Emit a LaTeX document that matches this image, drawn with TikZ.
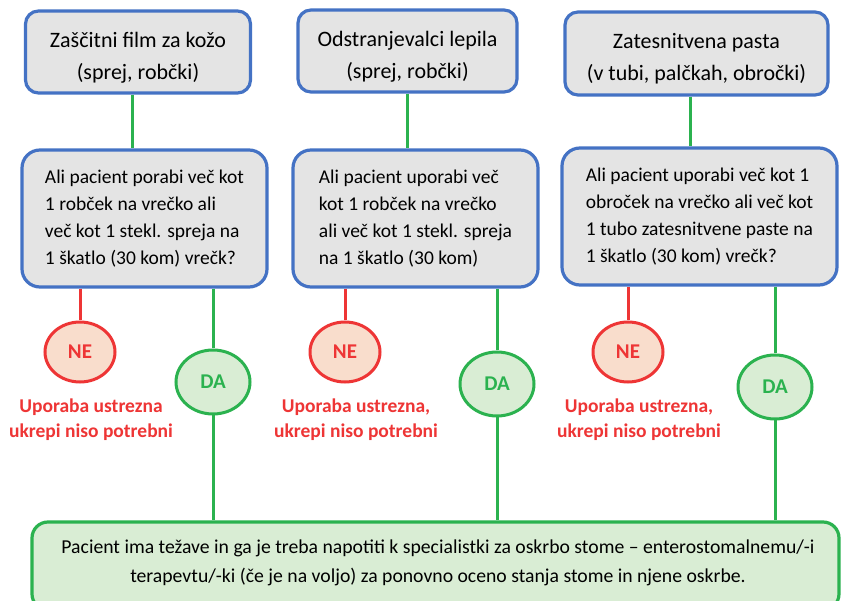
\documentclass[tikz,border=0pt]{standalone}
\usepackage{fontspec}
\setmainfont{Carlito}
\usetikzlibrary{shapes.geometric}
\definecolor{bblue}{HTML}{4472C4}
\definecolor{bgray}{HTML}{E4E4E4}
\definecolor{ggreen}{HTML}{2BB24F}
\definecolor{rred}{HTML}{EE3535}
\definecolor{nefill}{HTML}{F9DDCC}
\definecolor{dafill}{HTML}{D9EDD4}
\newcommand{\topstrut}{\rule{0pt}{26pt}}
\tikzset{
  topbox/.style={draw=bblue, fill=bgray, line width=3.2pt, rounded corners=13pt, align=center,
    font=\fontsize{22}{32}\selectfont, inner sep=0pt},
  qbox/.style={draw=bblue, fill=bgray, line width=3.2pt, rounded corners=18pt, align=left,
    font=\fontsize{19.5}{27}\selectfont, inner sep=0pt},
  nenode/.style={ellipse, draw=rred, fill=nefill, line width=3pt, minimum width=70pt, minimum height=60pt,
    inner sep=0pt, text=rred, font=\bfseries\fontsize{21}{22}\selectfont},
  danode/.style={ellipse, draw=ggreen, fill=dafill, line width=3pt, minimum width=74pt, minimum height=64pt,
    inner sep=0pt, text=ggreen, font=\bfseries\fontsize{21}{22}\selectfont},
  redtxt/.style={align=center, text=rred, font=\bfseries\fontsize{19.5}{25}\selectfont, inner sep=0pt},
  endbox/.style={draw=ggreen, fill=dafill, line width=3.2pt, rounded corners=16pt, inner sep=0pt},
  endtxt/.style={font=\fontsize{19.7}{29}\selectfont, align=center, inner sep=0pt},
  gline/.style={draw=ggreen, line width=3pt},
  rline/.style={draw=rred, line width=3pt},
}
\begin{document}
\begin{tikzpicture}[x=1pt,y=-1pt]
\useasboundingbox[fill=white] (0,0) rectangle (841,601);
% top boxes
\node[topbox, minimum width=225pt, minimum height=82pt] (t1) at (138,52) {\topstrut Zaščitni film za kožo\\(sprej, robčki)};
\node[topbox, minimum width=219pt, minimum height=82pt] (t2) at (407.5,51) {\topstrut Odstranjevalci lepila\\(sprej, robčki)};
\node[topbox, minimum width=263pt, minimum height=83pt] (t3) at (696.5,53.5) {\topstrut Zatesnitvena pasta\\(v tubi, palčkah, obročki)};
% question boxes
\node[qbox, minimum width=245pt, minimum height=137pt] (q1) at (144.5,218.5) {Ali pacient porabi več kot\\1 robček na vrečko ali\\več kot 1 stekl. spreja na\\1 škatlo (30 kom) vrečk?};
\node[qbox, minimum width=245pt, minimum height=137pt] (q2) at (415.5,218.5) {Ali pacient uporabi več\\kot 1 robček na vrečko\\ali več kot 1 stekl. spreja\\na 1 škatlo (30 kom)};
\node[qbox, minimum width=275pt, minimum height=137pt] (q3) at (699.5,216.5) {Ali pacient uporabi več kot 1\\obroček na vrečko ali več kot\\1 tubo zatesnitvene paste na\\1 škatlo (30 kom) vrečk?};
% bottom box
\node[endbox, minimum width=807pt, minimum height=88pt] (b) at (435.5,566) {};
\node[endtxt] (btxt) at (438,563) {Pacient ima težave in ga je treba napotiti k specialistki za oskrbo stome – enterostomalnemu/-i\\terapevtu/-ki (če je na voljo) za ponovno oceno stanja stome in njene oskrbe.};
% NE / DA
\node[nenode] (ne1) at (80,352) {NE};
\node[nenode] (ne2) at (345,352) {NE};
\node[nenode] (ne3) at (628,352) {NE};
\node[danode] (da1) at (213,382) {DA};
\node[danode] (da2) at (497,384) {DA};
\node[danode] (da3) at (775,387) {DA};
% red texts
\node[redtxt] (r1) at (91,420) {Uporaba ustrezna\\ukrepi niso potrebni};
\node[redtxt] (r2) at (356,420) {Uporaba ustrezna,\\ukrepi niso potrebni};
\node[redtxt] (r3) at (639,420) {Uporaba ustrezna,\\ukrepi niso potrebni};
% connectors
\draw[gline] ([xshift=-6pt]t1.south) -- ([xshift=-6pt]t1.south |- q1.north);
\draw[gline] (t2.south) -- (t2.south |- q2.north);
\draw[gline] ([xshift=-6.5pt]t3.south) -- ([xshift=-6.5pt]t3.south |- q3.north);
\draw[rline] (q1.south -| ne1) -- (ne1.north);
\draw[rline] (q2.south -| ne2) -- (ne2.north);
\draw[rline] (q3.south -| ne3) -- (ne3.north);
\draw[gline] (q1.south -| da1) -- (da1.north);
\draw[gline] (q2.south -| da2) -- (da2.north);
\draw[gline] (q3.south -| da3) -- (da3.north);
\draw[gline] (da1.south) -- (b.north -| da1);
\draw[gline] (da2.south) -- (b.north -| da2);
\draw[gline] (da3.south) -- (b.north -| da3);
\end{tikzpicture}
\end{document}
